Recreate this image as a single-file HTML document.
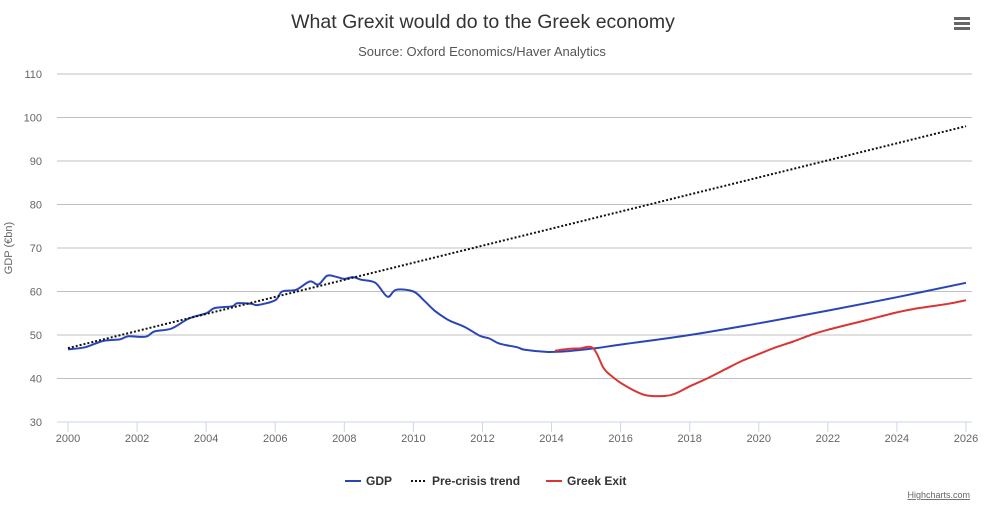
<!DOCTYPE html>
<html><head><meta charset="utf-8"><style>
body{margin:0;background:#fff;font-family:"Liberation Sans",sans-serif}
svg text{font-family:"Liberation Sans",sans-serif}
</style></head><body>
<svg id="c" width="992" height="512">
<text x="483" y="28" text-anchor="middle" font-size="19.5" fill="#333">What Grexit would do to the Greek economy</text>
<text x="482" y="56" text-anchor="middle" font-size="13" fill="#555">Source: Oxford Economics/Haver Analytics</text>
<g><rect x="954" y="17" width="16" height="3" fill="#666"/><rect x="954" y="22" width="16" height="3" fill="#666"/><rect x="954" y="27" width="16" height="3" fill="#666"/></g>
<text transform="translate(12,248) rotate(-90)" text-anchor="middle" font-size="11" fill="#666">GDP (€bn)</text>
<g id="grid"></g><g id="series"></g>
<g>
<g><line x1="345" y1="481" x2="361" y2="481" stroke="#2a45b8" stroke-width="2"/><text x="366" y="485" font-size="12" font-weight="bold" fill="#333">GDP</text></g>
<g><line x1="411" y1="481" x2="427" y2="481" stroke="#111" stroke-width="2" stroke-dasharray="2,2"/><text x="432" y="485" font-size="12" font-weight="bold" fill="#333">Pre-crisis trend</text></g>
<g><line x1="546" y1="481" x2="562" y2="481" stroke="#d93535" stroke-width="2"/><text x="567" y="485" font-size="12" font-weight="bold" fill="#333">Greek Exit</text></g>
</g>
<text x="970" y="498" text-anchor="end" font-size="9" fill="#666" text-decoration="underline">Highcharts.com</text>
</svg>
<script>
const yTicks=[30,40,50,60,70,80,90,100,110];
const xTicks=[2000,2002,2004,2006,2008,2010,2012,2014,2016,2018,2020,2022,2024,2026];
const gdpYears=[2000,2000.5,2001,2001.5,2001.75,2002.25,2002.5,2003,2003.5,2004,2004.25,2004.75,2004.9,2005.3,2005.5,2006,2006.2,2006.6,2007,2007.25,2007.5,2007.75,2008,2008.25,2008.5,2008.9,2009.25,2009.5,2010,2010.3,2010.63,2011,2011.2,2011.5,2011.93,2012.2,2012.5,2013,2013.23,2013.9,2014.5,2015.3,2016,2018,2020,2022,2024,2026];
const gdpValues=[46.7,47.2,48.6,49,49.7,49.6,50.8,51.5,53.8,55,56.2,56.6,57.3,57.2,56.9,58,60,60.4,62.3,61.6,63.6,63.4,62.9,63.3,62.7,62,58.8,60.4,60,58,55.5,53.5,52.8,51.8,49.8,49.2,48,47.2,46.6,46.1,46.3,47,47.8,50,52.7,55.6,58.7,62];
const exitYears=[2014.1,2014.5,2014.8,2015.2,2015.5,2015.7,2016.1,2016.7,2017.3,2017.6,2018,2018.5,2019,2019.5,2020,2020.5,2021,2021.5,2022,2022.5,2023,2023.5,2024,2024.5,2025,2025.5,2026];
const exitValues=[46.4,46.8,46.9,47,42.5,40.8,38.5,36.2,36,36.6,38.2,40,42,44,45.6,47.2,48.5,50,51.2,52.2,53.2,54.2,55.2,56,56.6,57.2,58];
const trendYears=[2000,2026];
const trendValues=[47,98];
const X=y=>68+(y-2000)*(966-68)/26;
const Y=v=>422-(v-30)*(422-74)/80;
const NS='http://www.w3.org/2000/svg';
const grid=document.getElementById('grid'),ser=document.getElementById('series');
function mk(t,a,p){const e=document.createElementNS(NS,t);for(const k in a)e.setAttribute(k,a[k]);p.appendChild(e);return e;}
yTicks.forEach(v=>{
const l=mk('line',{x1:57,x2:972,y1:Y(v),y2:Y(v),stroke:v===30?'#ccd6eb':'#c0c0c0','stroke-width':1},grid);


const t=mk('text',{x:42,y:Y(v)+4,'text-anchor':'end','font-size':11,fill:'#666'},grid);t.textContent=v;


});
xTicks.forEach(y=>{
const l=mk('line',{x1:X(y),x2:X(y),y1:422,y2:432,stroke:'#ccd6eb'},grid);


const t=mk('text',{x:X(y),y:442,'text-anchor':'middle','font-size':11,fill:'#666'},grid);t.textContent=y;


});
function path(xs,vs,attrs,name){
const pts=xs.map((x,i)=>[X(x),Y(vs[i])]);
let d='M'+pts[0][0].toFixed(1)+','+pts[0][1].toFixed(1);
for(let i=1;i<pts.length;i++){
const p0=pts[Math.max(0,i-2)],p1=pts[i-1],p2=pts[i],p3=pts[Math.min(pts.length-1,i+1)];
const c1=[p1[0]+(p2[0]-p0[0])/6,p1[1]+(p2[1]-p0[1])/6],c2=[p2[0]-(p3[0]-p1[0])/6,p2[1]-(p3[1]-p1[1])/6];
d+='C'+c1.map(n=>n.toFixed(1))+' '+c2.map(n=>n.toFixed(1))+' '+p2.map(n=>n.toFixed(1));
}
const p=mk('path',Object.assign({d:d,fill:'none','stroke-linejoin':'round'},attrs),ser);


}
path(gdpYears,gdpValues,{stroke:'#2a45b8','stroke-width':2},'gdp-line');
path(trendYears,trendValues,{stroke:'#111','stroke-width':2,'stroke-dasharray':'2,2'},'pre-crisis-trend-line');
path(exitYears,exitValues,{stroke:'#d93535','stroke-width':2},'greek-exit-line');
</script>
</body></html>
